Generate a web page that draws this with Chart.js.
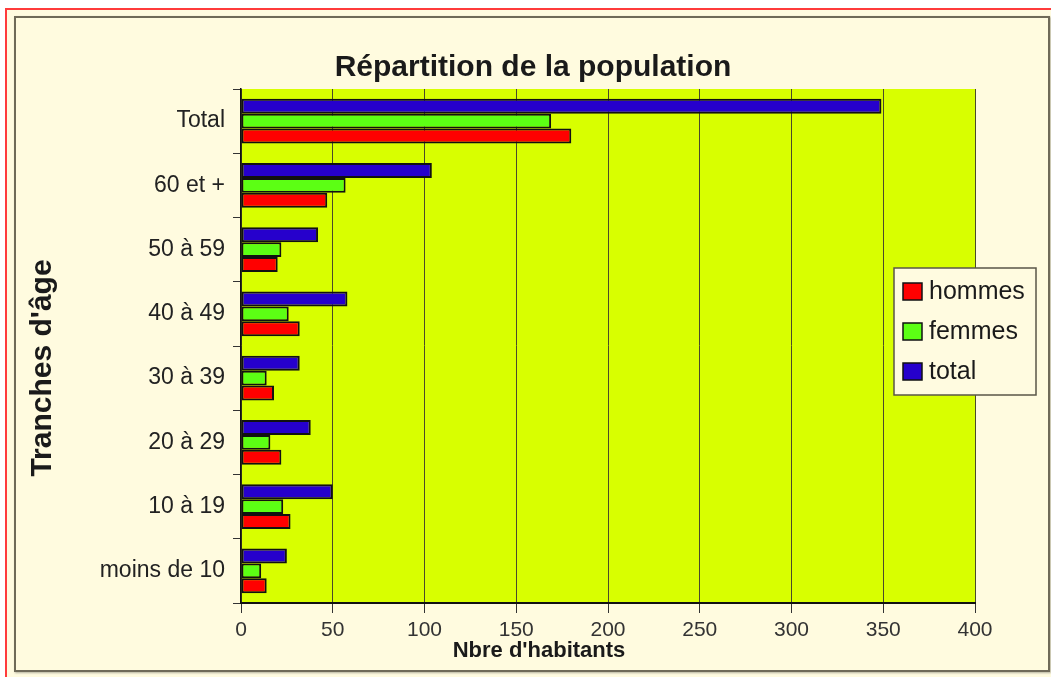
<!DOCTYPE html>
<html>
<head>
<meta charset="utf-8">
<script src="https://cdn.jsdelivr.net/npm/chart.js@4/dist/chart.umd.min.js"></script>
<style>
  html, body { margin: 0; padding: 0; background: #ffffff; }
  #stage { position: relative; width: 1051px; height: 677px; overflow: hidden; background: #ffffff; }
  #red { position: absolute; left: 5px; top: 8px; width: 1200px; height: 800px; box-sizing: border-box;
         border-left: 2px solid #ff3b3b; border-top: 2px solid #ff3b3b; background: #fffbe0; }
  #inner { position: absolute; left: 14px; top: 16px; width: 1036px; height: 656px; box-sizing: border-box;
           border: 2px solid #6f6a58; box-shadow: 1px 1px 2px rgba(0,0,0,0.3); background: #fffbdf; }
  #c { position: absolute; left: 0; top: 0; }
</style>
</head>
<body>
<div id="stage">
  <div id="red"></div>
  <div id="inner"></div>
  <canvas id="c" width="1051" height="677"></canvas>
</div>
<script>
// ---- data ----
const categories = ['moins de 10', '10 à 19', '20 à 29', '30 à 39', '40 à 49', '50 à 59', '60 et +', 'Total'];
const hommes = [14, 27, 22, 18, 32, 20, 47, 180];
const femmes = [11, 23, 16, 14, 26, 22, 57, 169];
const total  = [25, 50, 38, 32, 58, 42, 104, 349];
const seriesNames = ['hommes', 'femmes', 'total'];
const xTicks = [0, 50, 100, 150, 200, 250, 300, 350, 400];

const chartTitle = 'Répartition de la population';
const xTitle = "Nbre d'habitants";
const yTitle = "Tranches d'âge";

const colors = ['#ff0000', '#5cff14', '#2600cc'];
const FONT = '"Liberation Sans", Arial, Helvetica, sans-serif';

const plotBg = {
  id: 'plotBg',
  beforeDraw(chart) {
    const { ctx, chartArea: a } = chart;
    ctx.save();
    ctx.fillStyle = '#d8ff00';
    ctx.fillRect(a.left, a.top, a.right - a.left, a.bottom - a.top);
    ctx.restore();
  }
};

const texts = {
  id: 'texts',
  afterDraw(chart) {
    const { ctx, chartArea: a } = chart;
    ctx.save();
    ctx.fillStyle = '#1a1a1a';
    // main title
    ctx.font = 'bold 30px ' + FONT;
    ctx.textAlign = 'center';
    ctx.textBaseline = 'middle';
    ctx.fillText(chartTitle, 533, 68);
    // x title
    ctx.font = 'bold 22px ' + FONT;
    ctx.fillText(xTitle, 539, 651);
    // y title
    ctx.save();
    ctx.translate(43, 368);
    ctx.rotate(-Math.PI / 2);
    ctx.font = 'bold 30px ' + FONT;
    ctx.fillText(yTitle, 0, 0);
    ctx.restore();

    // legend (drawn in series order: hommes, femmes, total)
    const bx = a.right - 81, by = 268, bw = 142, bh = 127;
    ctx.fillStyle = '#fffbe0';
    ctx.fillRect(bx, by, bw, bh);
    ctx.strokeStyle = '#5a5648';
    ctx.lineWidth = 1.5;
    ctx.strokeRect(bx, by, bw, bh);
    ctx.font = '25px ' + FONT;
    ctx.textAlign = 'left';
    ctx.textBaseline = 'middle';
    const ordered = chart.data.datasets.slice().reverse();
    ordered.forEach((ds, i) => {
      const cy = by + 23 + i * 40;
      ctx.fillStyle = ds.backgroundColor;
      ctx.fillRect(bx + 9, cy - 8, 19, 17);
      ctx.strokeStyle = '#111';
      ctx.lineWidth = 1.5;
      ctx.strokeRect(bx + 9, cy - 8, 19, 17);
      ctx.fillStyle = '#1a1a1a';
      ctx.fillText(ds.label, bx + 35, cy + 1);
    });
    ctx.restore();
  }
};

// datasets listed total, femmes, hommes so that total sits on top in each group
const datasets = [total, femmes, hommes].map((d, k) => {
  const i = 2 - k;
  return {
    label: seriesNames[i],
    data: d,
    backgroundColor: colors[i],
    borderColor: '#111111',
    borderWidth: 2,
    borderSkipped: false,
    categoryPercentage: 0.7,
    barPercentage: 1.0
  };
});

new Chart(document.getElementById('c'), {
  type: 'bar',
  data: { labels: categories, datasets },
  options: {
    indexAxis: 'y',
    responsive: false,
    animation: false,
    layout: { padding: { top: 89, right: 76, left: 0, bottom: 0 } },
    plugins: { legend: { display: false }, title: { display: false }, tooltip: { enabled: false } },
    scales: {
      x: {
        min: 0, max: 400,
        afterFit(s) { s.height = 74; },
        afterBuildTicks(s) { s.ticks = xTicks.map(v => ({ value: v })); },
        ticks: { color: '#333', font: { family: FONT, size: 21 }, padding: 5 },
        grid: { color: '#4a4a2a', lineWidth: 1, tickLength: 10, tickColor: '#333' },
        border: { display: true, color: '#111', width: 2 }
      },
      y: {
        reverse: true,
        afterFit(s) { s.width = 241; },
        ticks: { color: '#222', font: { family: FONT, size: 23 }, padding: 8 },
        grid: { drawOnChartArea: false, tickLength: 8, color: '#333', offset: true },
        border: { display: true, color: '#111', width: 1.5 }
      }
    }
  },
  plugins: [plotBg, texts]
});
</script>
</body>
</html>
